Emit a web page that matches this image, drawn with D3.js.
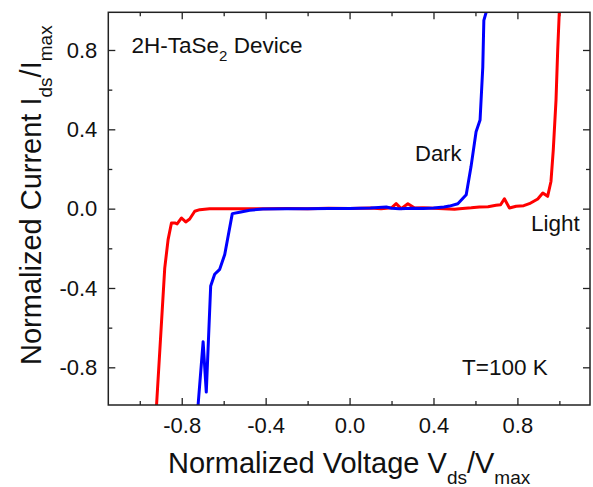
<!DOCTYPE html>
<html>
<head>
<meta charset="utf-8">
<script src="https://cdn.jsdelivr.net/npm/d3@7"></script>
<style>
  body { margin: 0; background: #fff; }
  svg text { font-family: "Liberation Sans", Arial, sans-serif; fill: #111; }
</style>
</head>
<body>
<div id="chart"></div>
<script>
// Light sweep (red)
const lightVoltage = [-0.935, -0.92, -0.881, -0.865, -0.849, -0.833, -0.822, -0.801, -0.781, -0.762, -0.738, -0.714, -0.667, -0.6, -0.5, -0.4, -0.3, -0.2, -0.1, 0.0, 0.1, 0.15, 0.2, 0.222, 0.246, 0.278, 0.31, 0.35, 0.4, 0.45, 0.5, 0.524, 0.58, 0.619, 0.66, 0.698, 0.72, 0.738, 0.762, 0.794, 0.83, 0.857, 0.897, 0.921, 0.944, 0.96, 0.971, 0.984, 0.992, 1.0, 1.003];
const lightCurrent = [-1.1, -0.99, -0.3, -0.156, -0.072, -0.072, -0.077, -0.047, -0.067, -0.052, -0.013, -0.005, 0.0, 0.0, 0.0, 0.0, 0.001, 0.0, 0.002, 0.001, 0.003, 0.0, 0.004, 0.025, 0.0, 0.025, 0.003, 0.005, 0.002, 0.0, -0.003, 0.0, 0.004, 0.008, 0.01, 0.017, 0.02, 0.05, 0.003, 0.012, 0.015, 0.025, 0.049, 0.079, 0.062, 0.137, 0.296, 0.547, 0.798, 1.0, 1.05];

// Dark sweep (blue)
const darkVoltage = [-0.728, -0.722, -0.698, -0.683, -0.662, -0.643, -0.619, -0.595, -0.559, -0.524, -0.476, -0.413, -0.3, -0.2, -0.1, 0.0, 0.1, 0.175, 0.2, 0.238, 0.3, 0.35, 0.4, 0.45, 0.476, 0.516, 0.556, 0.579, 0.603, 0.622, 0.635, 0.64, 0.651, 0.655];
const darkCurrent = [-1.05, -0.99, -0.671, -0.925, -0.39, -0.331, -0.306, -0.231, -0.025, -0.018, -0.008, -0.002, 0.0, 0.0, 0.001, 0.001, 0.003, 0.008, 0.002, 0.0, 0.002, 0.001, 0.003, 0.008, 0.013, 0.025, 0.07, 0.212, 0.388, 0.447, 0.714, 0.949, 0.99, 1.05];

const majorTicks = [-0.8, -0.4, 0.0, 0.4, 0.8];
const minorTicksX = [-1.0, -0.6, -0.2, 0.2, 0.6, 1.0];
const minorTicksY = [-0.6, -0.2, 0.2, 0.6];

const W = 593, H = 487;
const plotLeft = 108.3, plotRight = 590, plotTop = 12.3, plotBottom = 405;

const svg = d3.select('#chart').append('svg')
  .attr('width', W)
  .attr('height', H);

const x = d3.scaleLinear().domain([-1.15, 1.146]).range([plotLeft, plotRight]);
const y = d3.scaleLinear().domain([-0.99, 0.99]).range([plotBottom, plotTop]);

svg.append('defs').append('clipPath')
  .attr('id', 'plot-clip')
  .append('rect')
  .attr('x', plotLeft).attr('y', plotTop)
  .attr('width', plotRight - plotLeft).attr('height', plotBottom - plotTop);

// Axes with inward ticks
function styleAxis(g) {
  g.select('.domain').remove();
  g.selectAll('.tick line').attr('stroke', '#222').attr('stroke-width', 1.3);
  g.selectAll('.tick text')
    .style('font-family', '"Liberation Sans", Arial, sans-serif')
    .style('font-size', '22px')
    .attr('fill', '#111');
}

// bottom
svg.append('g')
  .attr('transform', `translate(0,${plotBottom})`)
  .call(d3.axisBottom(x).tickValues(majorTicks).tickSizeInner(-7).tickSizeOuter(0)
    .tickFormat(d3.format('.1f')))
  .call(styleAxis)
  .call(g => g.selectAll('.tick text').attr('y', 12.5).attr('dy', '0.71em'));
svg.append('g')
  .attr('transform', `translate(0,${plotBottom})`)
  .call(d3.axisBottom(x).tickValues(minorTicksX).tickSizeInner(-4).tickSizeOuter(0).tickFormat(''))
  .call(styleAxis);

// top
svg.append('g')
  .attr('transform', `translate(0,${plotTop})`)
  .call(d3.axisTop(x).tickValues(majorTicks).tickSizeInner(-7).tickSizeOuter(0).tickFormat(''))
  .call(styleAxis);
svg.append('g')
  .attr('transform', `translate(0,${plotTop})`)
  .call(d3.axisTop(x).tickValues(minorTicksX).tickSizeInner(-4).tickSizeOuter(0).tickFormat(''))
  .call(styleAxis);

// left
svg.append('g')
  .attr('transform', `translate(${plotLeft},0)`)
  .call(d3.axisLeft(y).tickValues(majorTicks).tickSizeInner(-7).tickSizeOuter(0)
    .tickFormat(d3.format('.1f')))
  .call(styleAxis)
  .call(g => g.selectAll('.tick text').attr('x', -11));
svg.append('g')
  .attr('transform', `translate(${plotLeft},0)`)
  .call(d3.axisLeft(y).tickValues(minorTicksY).tickSizeInner(-4).tickSizeOuter(0).tickFormat(''))
  .call(styleAxis);

// right
svg.append('g')
  .attr('transform', `translate(${plotRight},0)`)
  .call(d3.axisRight(y).tickValues(majorTicks).tickSizeInner(-7).tickSizeOuter(0).tickFormat(''))
  .call(styleAxis);
svg.append('g')
  .attr('transform', `translate(${plotRight},0)`)
  .call(d3.axisRight(y).tickValues(minorTicksY).tickSizeInner(-4).tickSizeOuter(0).tickFormat(''))
  .call(styleAxis);

// hyphen minus like the original
svg.selectAll('.tick text').text(function () { return this.textContent.replace('\u2212', '-'); });

// Curves
const line = d3.line()
  .x(d => x(d[0]))
  .y(d => y(d[1]));

const plot = svg.append('g').attr('clip-path', 'url(#plot-clip)');

plot.append('path')
  .datum(d3.zip(lightVoltage, lightCurrent))
  .attr('fill', 'none')
  .attr('stroke', '#ff0000')
  .attr('stroke-width', 3)
  .attr('stroke-linejoin', 'round')
  .attr('d', line);

plot.append('path')
  .datum(d3.zip(darkVoltage, darkCurrent))
  .attr('fill', 'none')
  .attr('stroke', '#0000ff')
  .attr('stroke-width', 3)
  .attr('stroke-linejoin', 'round')
  .attr('d', line);

// Frame
svg.append('rect')
  .attr('x', plotLeft).attr('y', plotTop)
  .attr('width', plotRight - plotLeft).attr('height', plotBottom - plotTop)
  .attr('fill', 'none')
  .attr('stroke', '#222')
  .attr('stroke-width', 1.5);

// Annotations
const device = svg.append('text')
  .attr('x', 131.5).attr('y', 52.7)
  .style('font-size', '22.5px');
device.append('tspan').text('2H-TaSe');
device.append('tspan').attr('dy', 8).style('font-size', '15px').text('2');
device.append('tspan').attr('dy', -8).text(' Device');

svg.append('text').attr('x', 415).attr('y', 160.7).style('font-size', '22px').text('Dark');
svg.append('text').attr('x', 531).attr('y', 230.7).style('font-size', '22.5px').text('Light');
svg.append('text').attr('x', 462).attr('y', 375).style('font-size', '22.5px').text('T=100 K');

// Axis titles
const xTitle = svg.append('text')
  .attr('x', 168).attr('y', 473.3)
  .style('font-size', '29px');
xTitle.append('tspan').text('Normalized Voltage V');
xTitle.append('tspan').attr('dy', 11).style('font-size', '19px').text('ds');
xTitle.append('tspan').attr('dy', -11).text('/V');
xTitle.append('tspan').attr('dy', 11).style('font-size', '19px').text('max');

const yTitle = svg.append('text')
  .attr('transform', 'rotate(-90)')
  .attr('x', -365).attr('y', 41)
  .style('font-size', '29px');
yTitle.append('tspan').text('Normalized Current I');
yTitle.append('tspan').attr('dy', 11).style('font-size', '19px').text('ds');
yTitle.append('tspan').attr('dy', -11).text('/I');
yTitle.append('tspan').attr('dy', 11).style('font-size', '19px').text('max');
</script>
</body>
</html>
